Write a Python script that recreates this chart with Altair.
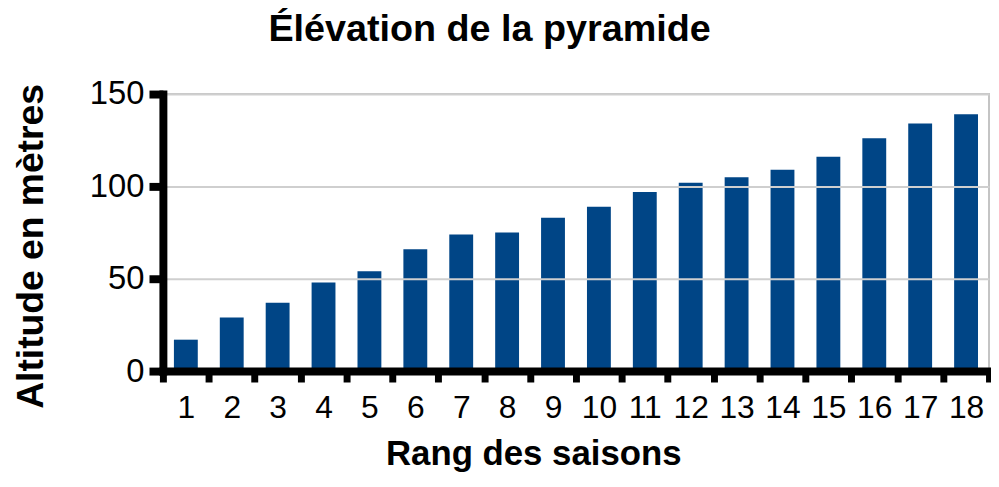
import altair as alt
import pandas as pd

rangs = [str(i) for i in range(1, 19)]
altitudes = [17, 29, 37, 48, 54, 66, 74, 75, 83, 89, 97, 102, 105, 109, 116, 126, 134, 139]
y_ticks = [0, 50, 100, 150]

df = pd.DataFrame({"rang": rangs, "altitude": altitudes})

FONT = "Liberation Sans"

chart = alt.Chart(df).mark_bar(color="#004586", width=alt.RelativeBandSize(0.52)).encode(
    x=alt.X(
        "rang:N",
        sort=rangs,
        scale=alt.Scale(paddingInner=0, paddingOuter=0),
        axis=alt.Axis(
            title="Rang des saisons",
            labelAngle=0,
            tickBand="extent",
            domainColor="black",
            domainWidth=8,
            domainCap="square",
            tickColor="black",
            tickWidth=7,
            tickSize=11,
            labelFont=FONT,
            labelFontSize=32,
            labelColor="black",
            labelPadding=36,
            labelBaseline="alphabetic",
            labelOverlap=False,
            titleFont=FONT,
            titleFontSize=35,
            titleFontWeight="bold",
            titleColor="black",
            titleX=373,
            titleY=94,
            titleAlign="center",
            titleBaseline="alphabetic",
            grid=False,
            zindex=1,
        ),
    ),
    y=alt.Y(
        "altitude:Q",
        scale=alt.Scale(domain=[0, 150], nice=False),
        axis=alt.Axis(
            title="Altitude en mètres",
            values=y_ticks,
            domainColor="black",
            domainWidth=8,
            domainCap="square",
            tickColor="black",
            tickWidth=8,
            tickSize=14,
            labelFont=FONT,
            labelFontSize=33,
            labelColor="black",
            labelPadding=5,
            labelOverlap=False,
            titleFont=FONT,
            titleFontSize=37.5,
            titleFontWeight="bold",
            titleColor="black",
            titleAngle=-90,
            titleX=-121,
            titleY=153,
            titleAlign="center",
            titleBaseline="alphabetic",
            grid=True,
            gridColor="#cfcfcf",
            gridWidth=2,
            zindex=1,
        ),
    ),
).properties(
    width=832,
    height=279,
    title=alt.TitleParams(
        "Élévation de la pyramide",
        font=FONT,
        fontSize=38,
        fontWeight="bold",
        color="black",
        anchor="middle",
        dx=-87,
        dy=1,
        baseline="alphabetic",
        offset=0,
    ),
    autosize=alt.AutoSizeParams(type="none"),
    padding={"left": 156, "top": 85, "right": 2, "bottom": 103},
).configure_view(
    stroke="#c4c4c4",
    strokeWidth=2,
)

chart.save("out.html", embed_options={"renderer": "svg", "actions": False})
